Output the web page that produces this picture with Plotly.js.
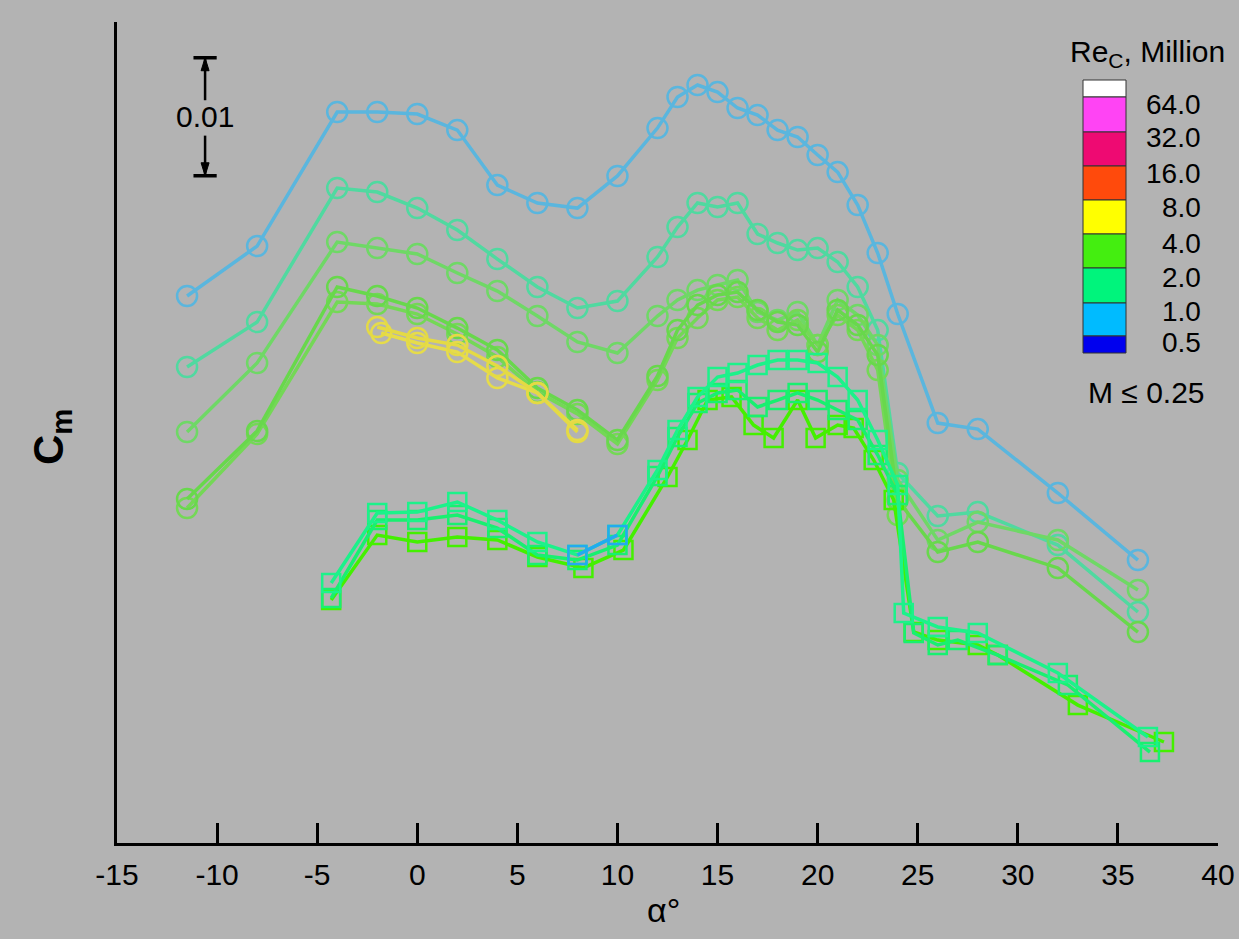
<!DOCTYPE html>
<html>
<head>
<meta charset="utf-8">
<script src="https://cdn.plot.ly/plotly-3.0.1.min.js"></script>
<style>html,body{margin:0;padding:0;background:#b3b3b3;}#chart{width:1239px;height:939px;}</style>
</head>
<body>
<div id="chart"></div>
<script>
// ---------------- DATA (Cm in units of 0.001, relative) ----------------
const xTickVals = [-15,-10,-5,0,5,10,15,20,25,30,35,40];
const xTickText = ['-15','-10','-5','0','5','10','15','20','25','30','35','40'];

const legendLabels = ['64.0','32.0','16.0','8.0','4.0','2.0','1.0','0.5'];
const legendColors = ['#ffffff','#ff44f4','#ee0a72','#ff4a0c','#ffff00','#44ee10','#00f47c','#00bbff','#0000ee'];
const scaleBarValue = 10; // 0.01 in units of 0.001

// circle series
const alphaA = [-11.5,-8,-4,-2,0,2,4,6,8,10,12,13,14,15,16,17,18,19,20,21,22,23,24,26,28,32,36];
const cmA = [46.36,50.59,61.95,61.95,61.78,60.42,55.76,54.24,53.81,56.53,60.59,63.22,64.24,63.64,62.29,61.69,60.42,59.83,58.31,56.86,54.07,50.00,44.83,35.59,35.08,29.66,23.98];

const alphaB = [-11.5,-8,-4,-2,0,2,4,6,8,10,12,13,14,15,16,17,18,19,20,21,22,23,24,26,28,32,36];
const cmB = [40.34,44.15,55.51,55.17,53.81,51.95,49.49,47.12,45.34,45.93,49.66,52.20,54.24,53.90,54.24,51.61,50.85,50.25,50.42,49.24,47.12,43.47,31.36,27.71,28.05,25.25,19.58];

const alphaC = [-11.5,-8,-4,-2,0,2,4,6,8,10,12,13,14,15,16,17,18,19,20,21,22,23,24,26,28,32,36];
const cmC = [34.83,40.68,50.93,50.42,49.92,48.31,46.78,44.66,42.46,41.53,44.66,46.02,46.86,47.29,47.71,45.00,44.32,45.00,42.20,46.02,44.75,42.20,30.76,25.68,27.20,25.68,21.44];

const alphaD1 = [-11.5,-8,-4,-2,0,2,4,6,8,10,12,13,14,15,16,17,18,19,20,21,22,23,24,26,28,32,36];
const cmD1 = [29.15,34.92,47.12,46.36,45.34,43.64,41.78,38.56,36.69,34.15,39.58,43.47,45.59,46.44,46.69,45.17,44.15,43.90,41.61,45.17,43.90,41.36,29.07,24.66,25.51,23.31,17.88];

const alphaD2 = [-11.5,-8,-4,-2,0,2,4,6,8,10,12,13,14,15,16,17,18,19,20,21,22,23,24];
const cmD2 = [28.39,34.66,45.85,45.68,44.83,43.14,41.19,38.22,36.36,33.81,39.24,42.80,44.49,46.02,46.27,44.49,43.47,44.32,42.20,44.75,43.47,40.08,27.80];

const alphaE1 = [-2,0,2,4,6,8];
const cmE1 = [43.73,42.80,42.20,40.42,38.14,34.83];
const alphaE2 = [-1.8,0,2,4,6,8];
const cmE2 = [43.22,42.37,41.61,39.41,38.14,35.00];

// square series
const alphaG = [-4.3,-2,0,2,4,6,8,10,12,13,14,15,16,17,18,19,20,21,22,23,24,24.3,26,28,32,36.5];
const cmG = [22.03,27.97,28.05,28.90,27.37,25.51,24.41,26.10,31.61,35.00,37.80,39.49,39.83,40.51,40.93,40.93,40.68,39.49,37.54,34.15,30.34,19.49,18.31,17.80,14.41,8.98];

const alphaH = [-4.3,-2,0,2,4,6,8,10,12,13,14,15,16,17,18,19,20,21,22,23,24,24.8,26,27,29,32.5,36.6];
const cmH = [20.76,27.37,27.37,27.80,26.69,24.41,23.98,25.25,31.10,34.41,37.29,38.14,38.39,36.95,37.54,38.14,37.54,36.69,35.85,32.88,29.49,17.80,16.78,17.20,15.93,13.39,7.71];

const alphaF = [-4.3,-2,0,2,4,6,8.3,10.3,12.5,13.5,14.5,15.7,16.8,17.8,19,19.9,21,21.8,22.8,23.8,24.8,26,28,29,33,37.3];
const cmF = [20.59,26.10,25.51,25.93,25.68,24.24,23.31,24.83,31.02,34.15,37.54,37.80,35.42,34.32,37.54,34.32,35.42,35.17,32.46,29.07,17.88,17.20,16.78,15.93,11.69,8.56];

// ---------------- STYLE ----------------
const BG = '#b3b3b3';
const FONT = 'Liberation Sans, Arial, Helvetica, sans-serif';
function circ(x, y, color){
  return {x:x, y:y, type:'scatter', mode:'lines+markers', hoverinfo:'skip',
    line:{color:color, width:3.5},
    marker:{symbol:'circle-open', size:20, color:color, line:{color:color, width:2.5}}};
}
function sq(x, y, color){
  return {x:x, y:y, type:'scatter', mode:'lines+markers', hoverinfo:'skip',
    line:{color:color, width:3.5},
    marker:{symbol:'square-open', size:18, color:color, line:{color:color, width:2.5}}};
}
const traces = [
  circ(alphaA, cmA, '#5ab6de'),
  circ(alphaB, cmB, '#50d9a0'),
  circ(alphaC, cmC, '#6fd866'),
  circ(alphaD2, cmD2, '#74d856'),
  circ(alphaD1, cmD1, '#68d84c'),
  circ(alphaE2, cmE2, '#e6dc4a'),
  circ(alphaE1, cmE1, '#e4da44'),
  sq(alphaF, cmF, '#44f000'),
  sq(alphaH, cmH, '#18f070'),
  sq(alphaG, cmG, '#1cf28a'),
  sq(alphaG.slice(6,8), cmG.slice(6,8), '#22aaf0')
];

// pixel -> paper helpers (plot area: x 117..1218, y 22..843)
const PX = p => (p - 117) / 1101;
const PY = p => (843 - p) / 821;

const shapes = [];
const annotations = [];
function note(px, py, text, size, extra){
  annotations.push(Object.assign({xref:'paper', yref:'paper', x:PX(px), y:PY(py), xanchor:'center', yanchor:'middle',
    text:text, showarrow:false, font:{family:FONT, size:size, color:'#000'}}, extra||{}));
}

// scale bar (data coords)
const sbX = -10.6, sbTop = 66.55, sbBot = sbTop - scaleBarValue;
const capHalf = 0.58, arrH = 1.1, arrW = 0.2;
shapes.push({type:'line', xref:'x', yref:'y', x0:sbX, x1:sbX, y0:sbTop, y1:sbTop-3.6, line:{color:'#000', width:2.5}});
shapes.push({type:'line', xref:'x', yref:'y', x0:sbX, x1:sbX, y0:sbBot, y1:sbBot+3.4, line:{color:'#000', width:2.5}});
shapes.push({type:'line', xref:'x', yref:'y', x0:sbX-capHalf, x1:sbX+capHalf, y0:sbTop, y1:sbTop, line:{color:'#000', width:3.5}});
shapes.push({type:'line', xref:'x', yref:'y', x0:sbX-capHalf, x1:sbX+capHalf, y0:sbBot, y1:sbBot, line:{color:'#000', width:3.5}});
shapes.push({type:'path', xref:'x', yref:'y', path:`M ${sbX},${sbTop} L ${sbX-arrW},${sbTop-arrH} L ${sbX+arrW},${sbTop-arrH} Z`, fillcolor:'#000', line:{color:'#000', width:1}});
shapes.push({type:'path', xref:'x', yref:'y', path:`M ${sbX},${sbBot} L ${sbX-arrW},${sbBot+arrH} L ${sbX+arrW},${sbBot+arrH} Z`, fillcolor:'#000', line:{color:'#000', width:1}});
annotations.push({xref:'x', yref:'y', x:sbX, y:(sbTop+sbBot)/2, xanchor:'center', yanchor:'middle', text:'0.01', showarrow:false, font:{family:FONT, size:30, color:'#000'}});

// colour legend
const boxTops = [80,97,132,166,200,234,268,303,336,353];
legendColors.forEach((c,i)=>{
  shapes.push({type:'rect', xref:'paper', yref:'paper', x0:PX(1083), x1:PX(1126), y0:PY(boxTops[i+1]), y1:PY(boxTops[i]),
    fillcolor:c, line:{color:'#333', width:1}});
});
const labelY = [104,138,173,208,243,277,311,342];
legendLabels.forEach((t,i)=>{
  note(1203, labelY[i], t, 28, {xanchor:'right'});
});
note(1147, 54, 'Re<sub>C</sub>, Million', 30);
note(1146, 392, 'M ≤ 0.25', 30);
// axis titles
note(663, 910, 'α°', 34);
note(51, 437, '<b>C<sub>m</sub></b>', 42, {textangle:-90});

const layout = {
  width:1239, height:939,
  paper_bgcolor:BG, plot_bgcolor:BG,
  margin:{l:117, r:21, t:22, b:96},
  showlegend:false,
  font:{family:FONT, color:'#000'},
  xaxis:{range:[-15,40], tickvals:xTickVals, ticktext:xTickText, ticks:'inside', ticklen:20, tickwidth:3, tickcolor:'#000',
    showline:true, linewidth:3, linecolor:'#000', showgrid:false, zeroline:false, ticklabelstandoff:3,
    tickfont:{family:FONT, size:30, color:'#000'}},
  yaxis:{range:[0,69.58], showline:true, linewidth:3, linecolor:'#000', showticklabels:false, ticks:'', showgrid:false, zeroline:false},
  shapes:shapes,
  annotations:annotations
};
Plotly.newPlot('chart', traces, layout, {displayModeBar:false, staticPlot:true});
</script>
</body>
</html>
